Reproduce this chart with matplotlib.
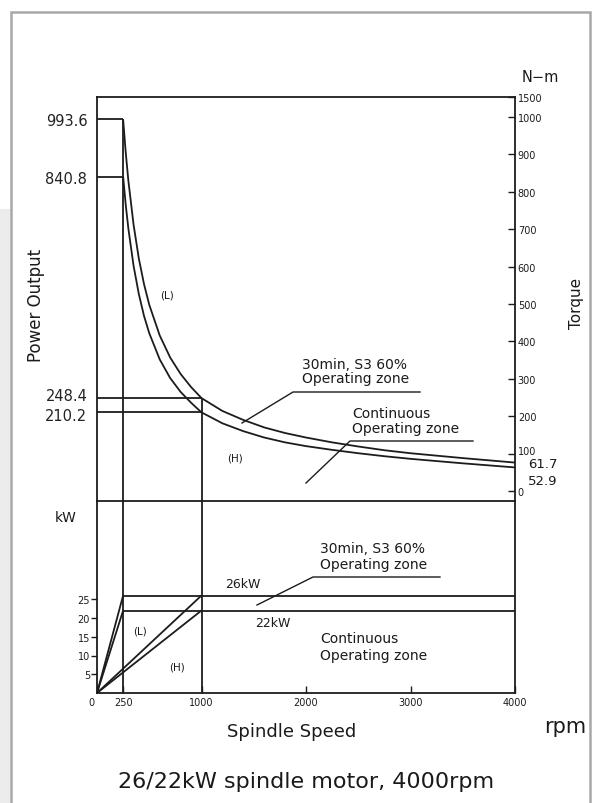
import matplotlib
matplotlib.use("Agg")
import matplotlib.pyplot as plt
import matplotlib.transforms as mtransforms
from matplotlib.patches import Rectangle
from matplotlib.lines import Line2D

plt.rcParams['font.family'] = ['DejaVu Sans']

# ---------------- data ----------------
rpm_curve = [250, 275, 300, 350, 400, 450, 500, 600, 700, 800, 900, 1000,
             1200, 1400, 1600, 1800, 2000, 2250, 2500, 2750, 3000, 3500, 4000]
torque_30min = [993.6, 905, 830, 712, 622, 553, 498, 416, 357, 313, 278, 248.4,
                214, 190, 170, 155, 143, 130, 119, 109, 101, 88, 76]
torque_cont = [840.8, 765, 702, 602, 527, 468, 422, 352, 302, 265, 236, 210.2,
               181, 160, 143, 130, 120, 110, 101, 93, 86, 74, 63]

rpm_L = 250
rpm_H = 1000
rpm_max = 4000
torque_L_30min = 993.6
torque_L_cont = 840.8
torque_H_30min = 248.4
torque_H_cont = 210.2
power_30min = 26
power_cont = 22

left_torque_ticks = [993.6, 840.8, 248.4, 210.2]
left_torque_labels = ['993.6', '840.8', '248.4', '210.2']
torque_ticks = [0, 100, 200, 300, 400, 500, 600, 700, 800, 900, 1000, 1053]
torque_tick_labels = ['0', '100', '200', '300', '400', '500', '600', '700',
                      '800', '900', '1000', '1500']
power_ticks = [5, 10, 15, 20, 25]
power_tick_labels = ['5', '10', '15', '20', '25']
speed_ticks = [0, 250, 1000, 2000, 3000, 4000]
speed_tick_labels = ['0', '250', '1000', '2000', '3000', '4000']

# ---------------- layout helpers ----------------
W, H = 596, 804
fig = plt.figure(figsize=(W / 100, H / 100), dpi=100)
fig.patch.set_facecolor('white')


def fx(px):
    return px / W


def fy(py):
    return 1 - py / H


def shift(artist, dx_px, dy_px):
    artist.set_transform(artist.get_transform() +
                         mtransforms.ScaledTranslation(dx_px / 100, dy_px / 100,
                                                       fig.dpi_scale_trans))


LC = '#1c1c1c'
LW = 1.3

# outer frame
fig.patches.append(Rectangle((0, fy(804)), fx(10), fy(210) - fy(804),
                             transform=fig.transFigure, facecolor='#ececec',
                             edgecolor='none', zorder=0))
fig.patches.append(Rectangle((fx(11), fy(812)), fx(590) - fx(11), fy(13) - fy(812),
                             transform=fig.transFigure, facecolor='none',
                             edgecolor='#a8a8a8', lw=1.8, zorder=0))

X0, X1 = 97, 515
TOP, SEP, BOT = 98, 502, 694
T_ZERO_PX, T_SCALE = 492, 0.374   # torque axis pixel mapping
P_SCALE = 3.75                    # kW axis pixel mapping

axT = fig.add_axes([fx(X0), fy(SEP), fx(X1) - fx(X0), fy(TOP) - fy(SEP)])
axP = fig.add_axes([fx(X0), fy(BOT), fx(X1) - fx(X0), fy(SEP) - fy(BOT)])

t_lo = (T_ZERO_PX - SEP) / T_SCALE
t_hi = (T_ZERO_PX - TOP) / T_SCALE
p_hi = (BOT - SEP) / P_SCALE

for ax in (axT, axP):
    ax.set_xlim(0, rpm_max)
    ax.set_facecolor('none')
    for s in ax.spines.values():
        s.set_linewidth(LW)
        s.set_color(LC)
axT.set_ylim(t_lo, t_hi)
axP.set_ylim(0, p_hi)
axP.spines['top'].set_visible(False)

kw = dict(color=LC, lw=LW, solid_capstyle='butt')

# ---------------- torque chart ----------------
axT.plot([0, rpm_L], [torque_L_30min] * 2, **kw)
axT.plot([0, rpm_L], [torque_L_cont] * 2, **kw)
axT.plot(rpm_curve, torque_30min, **kw)
axT.plot(rpm_curve, torque_cont, **kw)
axT.plot([0, rpm_H], [torque_H_30min] * 2, **kw)
axT.plot([0, rpm_H], [torque_H_cont] * 2, **kw)
axT.plot([rpm_L, rpm_L], [t_lo, torque_L_30min], **kw)
axT.plot([rpm_H, rpm_H], [t_lo, torque_H_30min], **kw)

axT.set_xticks([])
axT.set_yticks(left_torque_ticks)
axT.set_yticklabels(left_torque_labels, fontsize=10.5, color='#222')
axT.tick_params(axis='y', length=0, pad=7)
lbls = axT.get_yticklabels()
shift(lbls[2], 0, 4)
shift(lbls[3], 0, -2)

axR = axT.twinx()
axR.set_ylim(t_lo, t_hi)
axR.set_yticks(torque_ticks)
axR.set_yticklabels(torque_tick_labels, fontsize=7, color='#222')
axR.tick_params(axis='y', direction='in', length=5, width=1, pad=2, colors=LC)
for s in axR.spines.values():
    s.set_visible(False)
shift(axR.get_yticklabels()[1], 0, 4)   # the raised "100"

# ---------------- power chart ----------------
axP.axvline(rpm_L, **kw)
axP.axvline(rpm_H, **kw)
axP.plot([0, rpm_L], [0, power_30min], **kw)
axP.plot([0, rpm_L], [0, power_cont], **kw)
axP.plot([0, rpm_H], [0, power_30min], **kw)
axP.plot([0, rpm_H], [0, power_cont], **kw)
axP.plot([rpm_L, rpm_max], [power_30min] * 2, **kw)
axP.plot([rpm_L, rpm_max], [power_cont] * 2, **kw)

axP.set_yticks(power_ticks)
axP.set_yticklabels(power_tick_labels, fontsize=7, color='#222')
axP.tick_params(axis='y', direction='out', length=4, width=1, pad=1, colors=LC)
axP.set_xticks(speed_ticks)
axP.set_xticklabels(speed_tick_labels, fontsize=7, color='#222')
axP.tick_params(axis='x', direction='in', length=5, width=1, pad=3, colors=LC)
shift(axP.get_xticklabels()[0], -6, 0)

# ---------------- texts ----------------
def ftext(px, py, s, **k):
    fig.text(fx(px), fy(py), s, color='#1a1a1a', **k)


def fline(pts, lw=1.0):
    xs = [fx(p[0]) for p in pts]
    ys = [fy(p[1]) for p in pts]
    fig.add_artist(Line2D(xs, ys, transform=fig.transFigure, color=LC, lw=lw))


ftext(36, 305, 'Power Output', fontsize=12, rotation=90, ha='center', va='center')
ftext(66, 518, 'kW', fontsize=10, ha='center', va='center')
ftext(540, 78, 'N\u2212m', fontsize=10.5, ha='center', va='center')
ftext(576, 303, 'Torque', fontsize=11, rotation=90, ha='center', va='center')
ftext(543, 465, '61.7', fontsize=9.5, ha='center', va='center')
ftext(543, 482, '52.9', fontsize=9.5, ha='center', va='center')
ftext(292, 732, 'Spindle Speed', fontsize=13, ha='center', va='center')
ftext(565, 727, 'rpm', fontsize=15, ha='center', va='center')
ftext(306, 782, '26/22kW spindle motor, 4000rpm', fontsize=16, ha='center', va='center')

# top annotations
ftext(302, 369, '30min, S3 60%', fontsize=10, ha='left', va='baseline')
ftext(302, 383, 'Operating zone', fontsize=10, ha='left', va='baseline')
fline([(420, 393), (293, 393), (242, 424)])
ftext(352, 418, 'Continuous', fontsize=10, ha='left', va='baseline')
ftext(352, 433, 'Operating zone', fontsize=10, ha='left', va='baseline')
fline([(473, 442), (350, 442), (306, 484)])
ftext(167, 295, '(L)', fontsize=7.5, ha='center', va='center')
ftext(235, 459, '(H)', fontsize=7.5, ha='center', va='center')

# bottom annotations
ftext(320, 553, '30min, S3 60%', fontsize=10, ha='left', va='baseline')
ftext(320, 569, 'Operating zone', fontsize=10, ha='left', va='baseline')
fline([(440, 578), (313, 578), (257, 606)])
ftext(243, 585, '26kW', fontsize=9, ha='center', va='center')
ftext(273, 624, '22kW', fontsize=9, ha='center', va='center')
ftext(320, 643, 'Continuous', fontsize=10, ha='left', va='baseline')
ftext(320, 660, 'Operating zone', fontsize=10, ha='left', va='baseline')
ftext(140, 632, '(L)', fontsize=7.5, ha='center', va='center')
ftext(177, 668, '(H)', fontsize=7.5, ha='center', va='center')

fig.savefig('out.png', dpi=100, facecolor='white')
